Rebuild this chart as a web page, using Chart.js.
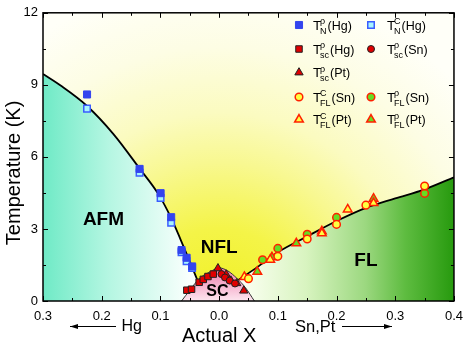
<!DOCTYPE html>
<html>
<head>
<meta charset="utf-8">
<script src="https://cdn.jsdelivr.net/npm/chart.js"></script>
<style>
  html, body { margin: 0; padding: 0; background: #fff; }
  #wrap { width: 471px; height: 346px; position: relative; }
</style>
</head>
<body>
<div id="wrap"><canvas id="c"></canvas></div>
<script>
// phase boundaries (x < 0 is the Hg side)
const tnLineX = [-0.30, -0.27, -0.225, -0.18, -0.135, -0.103, -0.082, -0.066, -0.05, -0.036];
const tnLineY = [9.45, 8.97, 8.12, 6.95, 5.5, 4.43, 3.47, 2.58, 1.65, 0.8];
const scDomeX = [-0.064, -0.05, -0.033, -0.015, 0, 0.015, 0.03, 0.045, 0.06];
const scDomeY = [0, 0.45, 0.95, 1.22, 1.38, 1.25, 0.95, 0.55, 0];
const flLineX = [0.032, 0.065, 0.1, 0.15, 0.2, 0.25, 0.3, 0.35, 0.4];
const flLineY = [0.86, 1.41, 2.03, 2.69, 3.33, 3.88, 4.27, 4.65, 5.15];

// measured points
const tnRhoHgX = [-0.225, -0.1355, -0.0997, -0.0817, -0.064, -0.0554, -0.046];
const tnRhoHgY = [8.6, 5.5, 4.49, 3.49, 2.12, 1.8, 1.44];
const tnCHgX = [-0.225, -0.1355, -0.0997, -0.0817, -0.064, -0.0554, -0.046];
const tnCHgY = [8.01, 5.34, 4.29, 3.26, 2.03, 1.66, 1.37];
const scHgX = [-0.055, -0.047, -0.034, -0.027, -0.019, -0.010];
const scHgY = [0.45, 0.49, 0.78, 0.9, 1.02, 1.12];
const scSnX = [0.004, 0.01, 0.018, 0.027];
const scSnY = [1.12, 0.98, 0.85, 0.73];
const scPtX = [-0.002, 0.012, 0.02, 0.03, 0.042];
const scPtY = [1.36, 1.1, 0.85, 0.74, 0.43];
const flCSnX = [0.05, 0.1, 0.15, 0.2, 0.25, 0.35];
const flCSnY = [0.93, 1.86, 2.58, 3.19, 3.99, 4.79];
const flRhoSnX = [0.074, 0.1, 0.15, 0.2, 0.35];
const flRhoSnY = [1.72, 2.19, 2.78, 3.48, 4.48];
const flCPtX = [0.043, 0.087, 0.175, 0.219, 0.263];
const flCPtY = [1.0, 1.72, 2.82, 3.81, 4.08];
const flRhoPtX = [0.065, 0.09, 0.1315, 0.175, 0.263];
const flRhoPtY = [1.22, 1.82, 2.4, 2.9, 4.26];

const xTicks = [-0.3, -0.2, -0.1, 0, 0.1, 0.2, 0.3, 0.4];
const yTicks = [0, 3, 6, 9, 12];

// legend text: [superscript, subscript, tail]
const legendText = [
  ['\u03c1', 'N', '(Hg)'], ['C', 'N', '(Hg)'],
  ['\u03c1', 'sc', '(Hg)'], ['\u03c1', 'sc', '(Sn)'],
  ['\u03c1', 'sc', '(Pt)'],
  ['C', 'FL', '(Sn)'], ['\u03c1', 'FL', '(Sn)'],
  ['C', 'FL', '(Pt)'], ['\u03c1', 'FL', '(Pt)']
];
const legendSlot = [[0,0],[1,0],[0,1],[1,1],[0,2],[0,3],[1,3],[0,4],[1,4]];

const FONT = '"Liberation Sans", Arial, sans-serif';
const pts = (xs, ys) => xs.map((x, i) => ({x: x, y: ys[i]}));

function marks(xs, ys, style, r, fill, edge, bw) {
  return {
    data: pts(xs, ys), showLine: false, pointStyle: style, pointRadius: r, pointHoverRadius: r,
    pointBackgroundColor: fill, pointBorderColor: edge, pointBorderWidth: bw
  };
}

function afmFill(c) {
  const ch = c.chart, a = ch.chartArea;
  if (!a) return 'rgba(0,0,0,0)';
  const g = ch.ctx.createLinearGradient(a.left, 0, ch.scales.x.getPixelForValue(-0.05), 0);
  g.addColorStop(0, '#6feac6');
  g.addColorStop(0.45, '#b5f6e2');
  g.addColorStop(1, '#fafffd');
  return g;
}
function flFill(c) {
  const ch = c.chart, a = ch.chartArea;
  if (!a) return 'rgba(0,0,0,0)';
  const g = ch.ctx.createLinearGradient(ch.scales.x.getPixelForValue(0.04), 0, a.right, 0);
  g.addColorStop(0, '#fbfff2');
  g.addColorStop(0.3, '#d8f4c0');
  g.addColorStop(0.58, '#9cd880');
  g.addColorStop(0.77, '#5ebc40');
  g.addColorStop(1, '#279a0e');
  return g;
}
function scFill(c) {
  const ch = c.chart, a = ch.chartArea;
  if (!a) return 'rgba(0,0,0,0)';
  const g = ch.ctx.createLinearGradient(0, ch.scales.y.getPixelForValue(1.4), 0, a.bottom);
  g.addColorStop(0, '#ee78aa');
  g.addColorStop(1, '#fde6ef');
  return g;
}

const decor = {
  id: 'decor',
  beforeDatasetsDraw(ch) {
    const ctx = ch.ctx, a = ch.chartArea;
    const cx = ch.scales.x.getPixelForValue(0);
    const g = ctx.createRadialGradient(cx, a.bottom + 10, 0, cx, a.bottom + 10, 330);
    g.addColorStop(0, '#f0f020');
    g.addColorStop(0.25, '#f4f448');
    g.addColorStop(0.45, '#f8f890');
    g.addColorStop(0.6, '#fbfbc0');
    g.addColorStop(0.8, '#fdfde4');
    g.addColorStop(1, '#fffff8');
    ctx.save();
    ctx.fillStyle = g;
    ctx.fillRect(a.left, a.top, a.right - a.left, a.bottom - a.top);
    ctx.restore();
  },
  afterDraw(ch) {
    const ctx = ch.ctx, a = ch.chartArea, xs = ch.scales.x, ys = ch.scales.y;
    ctx.save();
    // inward ticks on all sides
    ctx.strokeStyle = '#000';
    ctx.lineWidth = 1;
    ctx.beginPath();
    for (let i = 0; i < xTicks.length * 2 - 1; i++) {
      const v = xTicks[0] + i * 0.05;
      const px = Math.round(xs.getPixelForValue(v)) + 0.5;
      const L = i % 2 === 0 ? 5 : 3;
      ctx.moveTo(px, a.bottom); ctx.lineTo(px, a.bottom - L);
      ctx.moveTo(px, a.top); ctx.lineTo(px, a.top + L);
    }
    for (let i = 0; i < yTicks.length * 2 - 1; i++) {
      const v = i * 1.5;
      const py = Math.round(ys.getPixelForValue(v)) + 0.5;
      const L = i % 2 === 0 ? 5 : 3;
      ctx.moveTo(a.left, py); ctx.lineTo(a.left + L, py);
      ctx.moveTo(a.right, py); ctx.lineTo(a.right - L, py);
    }
    ctx.stroke();
    ctx.lineWidth = 1.5;
    ctx.strokeRect(a.left, a.top, a.right - a.left, a.bottom - a.top);

    // region labels
    ctx.fillStyle = '#000';
    ctx.textAlign = 'center';
    ctx.textBaseline = 'middle';
    ctx.font = 'bold 19px ' + FONT;
    ctx.fillText('AFM', xs.getPixelForValue(-0.197), ys.getPixelForValue(3.4));
    ctx.fillText('NFL', xs.getPixelForValue(0), ys.getPixelForValue(2.22));
    ctx.fillText('FL', xs.getPixelForValue(0.25), ys.getPixelForValue(1.69));
    ctx.font = 'bold 16px ' + FONT;
    ctx.fillText('SC', xs.getPixelForValue(-0.003), ys.getPixelForValue(0.38));

    // axis titles
    ctx.font = '20px ' + FONT;
    ctx.textBaseline = 'alphabetic';
    ctx.fillText('Actual X', xs.getPixelForValue(0), 341.5);
    ctx.save();
    ctx.translate(20, (a.top + a.bottom) / 2 + 16);
    ctx.rotate(-Math.PI / 2);
    ctx.fillText('Temperature (K)', 0, 0);
    ctx.restore();

    // dopant arrows
    ctx.font = '16px ' + FONT;
    ctx.textAlign = 'left';
    ctx.fillText('Hg', 121.5, 331);
    ctx.font = '16.5px ' + FONT;
    ctx.fillText('Sn,Pt', 295, 331.5);
    function arrow(x0, x1, y) {
      ctx.lineWidth = 1;
      ctx.beginPath(); ctx.moveTo(x0, y); ctx.lineTo(x1, y); ctx.stroke();
      const d = x1 > x0 ? 1 : -1;
      ctx.beginPath();
      ctx.moveTo(x1, y); ctx.lineTo(x1 - d * 8, y - 2.5); ctx.lineTo(x1 - d * 8, y + 2.5);
      ctx.closePath(); ctx.fill();
    }
    arrow(116, 70, 326.5);
    arrow(342, 392, 326.5);

    // legend
    const colMark = [299, 371], colText = [313, 387], rowY = [25, 49, 72.5, 97, 119.5];
    legendText.forEach((t, i) => {
      const ds = ch.data.datasets[i];
      const s = legendSlot[i];
      const mx = colMark[s[0]], my = rowY[s[1]];
      ctx.fillStyle = ds.pointBackgroundColor;
      ctx.strokeStyle = ds.pointBorderColor;
      ctx.lineWidth = ds.pointBorderWidth;
      Chart.helpers.drawPoint(ctx, {pointStyle: ds.pointStyle, radius: ds.pointRadius, borderWidth: ds.pointBorderWidth, rotation: 0}, mx, my);
      ctx.fillStyle = '#000';
      const tx = colText[s[0]];
      ctx.font = '13.5px ' + FONT;
      ctx.fillText('T', tx, my + 4.5);
      ctx.font = '9px ' + FONT;
      const sx = tx + 7;
      ctx.fillText(t[0], sx, my - 1);
      ctx.fillText(t[1], sx, my + 8.5);
      const w = Math.max(ctx.measureText(t[0]).width, ctx.measureText(t[1]).width);
      ctx.font = '12.5px ' + FONT;
      ctx.fillText(t[2], sx + w + 1, my + 4.5);
    });
    ctx.restore();
  }
};

const datasets = [
  marks(tnRhoHgX, tnRhoHgY, 'rect', 5, '#3344ee', '#3344ee', 1),
  marks(tnCHgX, tnCHgY, 'rect', 4.6, '#a8f4ff', '#3a5cff', 1.5),
  marks(scHgX, scHgY, 'rect', 4.6, '#e00000', '#222222', 1),
  marks(scSnX, scSnY, 'circle', 3.5, '#e00000', '#222222', 1),
  marks(scPtX, scPtY, 'triangle', 4.8, '#e00000', '#222222', 1),
  marks(flCSnX, flCSnY, 'circle', 3.8, '#ffff40', '#ff2000', 1.5),
  marks(flRhoSnX, flRhoSnY, 'circle', 3.8, '#66dd22', '#ff2000', 1.5),
  marks(flCPtX, flCPtY, 'triangle', 5, '#ffff40', '#ff2000', 1.5),
  marks(flRhoPtX, flRhoPtY, 'triangle', 5, '#66dd22', '#ff2000', 1.5),
  { data: pts(scDomeX, scDomeY), pointRadius: 0, borderColor: '#333', borderWidth: 1,
    backgroundColor: scFill, fill: 'origin', cubicInterpolationMode: 'monotone' },
  { data: pts(tnLineX, tnLineY), pointRadius: 0, borderColor: '#000', borderWidth: 1.8,
    backgroundColor: afmFill, fill: 'origin', cubicInterpolationMode: 'monotone' },
  { data: pts(flLineX, flLineY), pointRadius: 0, borderColor: '#000', borderWidth: 1.8,
    backgroundColor: flFill, fill: 'origin', cubicInterpolationMode: 'monotone' }
];

new Chart(document.getElementById('c'), {
  type: 'line',
  data: { datasets: datasets },
  plugins: [decor],
  options: {
    responsive: true,
    maintainAspectRatio: false,
    animation: false,
    events: [],
    layout: { padding: { top: 9, right: 12, left: 0, bottom: 0 } },
    plugins: { legend: { display: false }, tooltip: { enabled: false } },
    scales: {
      x: {
        type: 'linear', min: -0.3, max: 0.4,
        afterFit: s => { s.height = 45; },
        afterBuildTicks: s => { s.ticks = xTicks.map(v => ({value: v})); },
        grid: { display: false, drawTicks: false },
        border: { display: false },
        ticks: { padding: 8, color: '#000', font: { size: 13, family: FONT },
                 callback: v => Math.abs(v).toFixed(1) }
      },
      y: {
        type: 'linear', min: 0, max: 12,
        afterFit: s => { s.width = 43; },
        afterBuildTicks: s => { s.ticks = yTicks.map(v => ({value: v})); },
        grid: { display: false, drawTicks: false },
        border: { display: false },
        ticks: { padding: 5, color: '#000', font: { size: 13, family: FONT } }
      }
    }
  }
});
</script>
</body>
</html>
